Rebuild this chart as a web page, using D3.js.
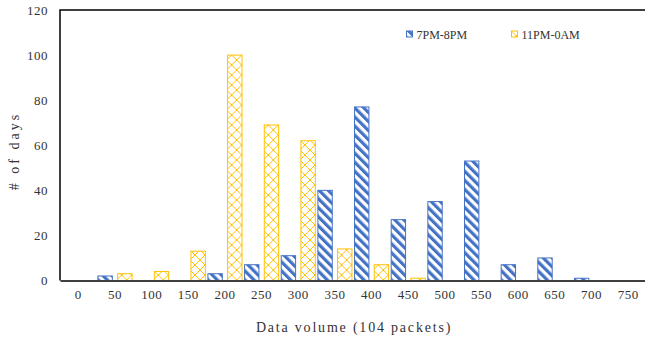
<!DOCTYPE html>
<html>
<head>
<meta charset="utf-8">
<script src="https://cdn.jsdelivr.net/npm/d3@7"></script>
<style>
  body { margin: 0; background: #fff; }
  svg text { font-family: "Liberation Serif", "DejaVu Serif", serif; fill: #333; }
</style>
</head>
<body>
<div id="chart"></div>
<script>
// data volume bins (10^4 packets)
const categories = ['0', '50', '100', '150', '200', '250', '300', '350', '400', '450', '500', '550', '600', '650', '700', '750']
const series = ['7PM-8PM', '11PM-0AM']
const evening = [0, 2, 0, 0, 3, 7, 11, 40, 77, 27, 35, 53, 7, 10, 1, 0]
const night = [0, 3, 4, 13, 100, 69, 62, 14, 7, 1, 0, 0, 0, 0, 0, 0]
const yTicks = [0, 20, 40, 60, 80, 100, 120]

const width = 645
const height = 343
const padding = { left: 60, top: 10, right: -1.5, bottom: 62.5 }
const colors = { '7PM-8PM': '#4472C4', '11PM-0AM': '#FFC000' }

const svg = d3.select('#chart')
  .append('svg')
  .attr('width', width)
  .attr('height', height)

// fill patterns
const defs = svg.append('defs')
const stripes = defs.append('pattern')
  .attr('id', 'pat-blue')
  .attr('patternUnits', 'userSpaceOnUse')
  .attr('width', 6.4)
  .attr('height', 6.4)
  .attr('patternTransform', 'rotate(-45)')
stripes.append('rect').attr('width', 6.4).attr('height', 6.4).attr('fill', '#fff')
stripes.append('rect').attr('width', 3.2).attr('height', 6.4).attr('fill', colors['7PM-8PM'])

const weave = defs.append('pattern')
  .attr('id', 'pat-yellow')
  .attr('patternUnits', 'userSpaceOnUse')
  .attr('width', 10)
  .attr('height', 10)
weave.append('rect').attr('width', 10).attr('height', 10).attr('fill', '#fff')
weave.append('path')
  .attr('d', 'M0,10 L10,0 M-1,1 L1,-1 M9,11 L11,9 M0,0 L5,5 M5,5 L10,10')
  .attr('stroke', colors['11PM-0AM'])
  .attr('stroke-width', 1)
  .attr('fill', 'none')

const fills = { '7PM-8PM': 'url(#pat-blue)', '11PM-0AM': 'url(#pat-yellow)' }

const x0 = d3.scaleBand()
  .domain(categories)
  .range([padding.left, width - padding.right])

const x1 = d3.scaleBand()
  .domain(series)
  .range([0, x0.bandwidth()])
  .paddingInner(0.22)
  .paddingOuter(0.04)

const y = d3.scaleLinear()
  .domain([0, 120])
  .range([height - padding.bottom, padding.top])

const rows = categories.map((c, i) => ({
  category: c,
  values: [
    { key: '7PM-8PM', value: evening[i] },
    { key: '11PM-0AM', value: night[i] }
  ]
}))

// bars
const groups = svg.selectAll('.group')
  .data(rows)
  .enter()
  .append('g')
  .attr('class', 'group')
  .attr('transform', d => 'translate(' + x0(d.category) + ',0)')

groups.selectAll('rect')
  .data(d => d.values.filter(v => v.value > 0))
  .enter()
  .append('rect')
  .attr('x', d => x1(d.key) + 0.5)
  .attr('y', d => y(d.value))
  .attr('width', x1.bandwidth() - 1)
  .attr('height', d => y(0) - y(d.value))
  .attr('fill', d => fills[d.key])
  .attr('stroke', d => colors[d.key])
  .attr('stroke-width', 1)

// frame: left and top
svg.append('path')
  .attr('d', 'M' + padding.left + ',' + y(0) + 'V' + padding.top + 'H' + width)
  .attr('fill', 'none')
  .attr('stroke', '#000')
  .attr('stroke-width', 1.5)

// x axis
const xAxis = d3.axisBottom(x0).tickSize(0).tickPadding(9)
const gx = svg.append('g')
  .attr('transform', 'translate(0,' + y(0) + ')')
  .call(xAxis)
gx.select('.domain').attr('stroke', '#404040').attr('stroke-width', 2)
gx.selectAll('text')
  .style('font-family', '"Liberation Serif", serif')
  .style('font-size', '13px')
  .style('letter-spacing', '0.5px')
  .attr('fill', '#333')

// y axis
const yAxis = d3.axisLeft(y).tickValues(yTicks).tickSize(0).tickPadding(12)
const gy = svg.append('g')
  .attr('transform', 'translate(' + padding.left + ',0)')
  .call(yAxis)
gy.select('.domain').remove()
gy.selectAll('text')
  .style('font-family', '"Liberation Serif", serif')
  .style('font-size', '13px')
  .style('letter-spacing', '0.5px')
  .attr('fill', '#333')

// axis titles
svg.append('text')
  .attr('x', (padding.left + width) / 2 + 1.5)
  .attr('y', 332)
  .attr('text-anchor', 'middle')
  .style('font-size', '14px')
  .style('letter-spacing', '1.8px')
  .text('Data volume (104 packets)')

svg.append('text')
  .attr('transform', 'translate(19,151) rotate(-90)')
  .attr('text-anchor', 'middle')
  .style('font-size', '14px')
  .style('letter-spacing', '3px')
  .text('# of days')

// legend
const legendX = [406.5, 511.5]
const legend = svg.selectAll('.legend')
  .data(series)
  .enter()
  .append('g')
  .attr('class', 'legend')
  .attr('transform', (d, i) => 'translate(' + legendX[i] + ',31)')

legend.append('rect')
  .attr('width', 6)
  .attr('height', 6)
  .attr('fill', d => fills[d])
  .attr('stroke', d => colors[d])
  .attr('stroke-width', 1)

legend.append('text')
  .attr('x', 10)
  .attr('y', 7.5)
  .style('font-size', '12px')
  .text(d => d)
</script>
</body>
</html>
